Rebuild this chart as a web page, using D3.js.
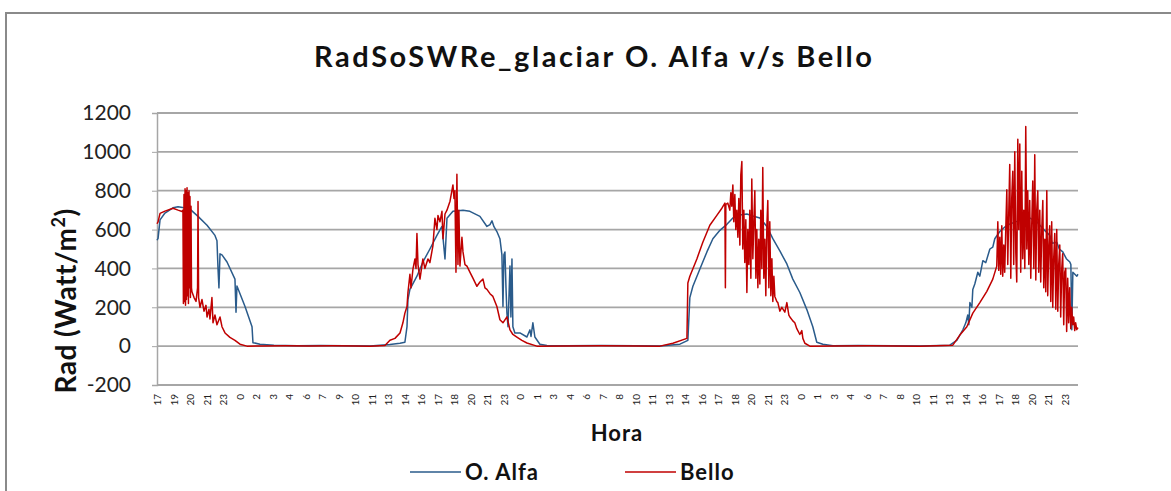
<!DOCTYPE html>
<html><head><meta charset="utf-8">
<script src="https://cdn.jsdelivr.net/npm/d3@7"></script>
<style>body{margin:0;background:#fff;} svg{display:block;}</style>
</head><body>
<svg id="c" width="1171" height="491"></svg>
<script>
const title = "RadSoSWRe_glaciar O. Alfa v/s Bello";
const seriesNames = ["O. Alfa", "Bello"];
const yTicks = [-200, 0, 200, 400, 600, 800, 1000, 1200];
const xTickLabels = ["17","19","20","21","23",
  "0","2","3","4","6","7","9","10","11","13","14","16","17","18","20","21","23",
  "0","1","3","4","6","7","8","10","11","13","14","16","17","18","20","21","23",
  "0","1","3","4","6","7","8","10","11","13","14","16","17","18","20","21","23"];
const xStart = 17, xTickStep = 24 / 17, xEnd = 95.8;

// [hours since day-1 00:00, W/m2]
const oAlfa = [[17.0,545],[17.09,555],[17.26,650],[17.68,685],[18.37,712],[18.8,718],[19.31,712],[19.82,705],[20.51,668],[21.28,622],[21.96,570],[22.13,543],[22.22,400],[22.3,300],[22.39,475],[22.56,470],[22.99,433],[23.67,345],[23.76,175],[23.84,310],[24.53,204],[25.13,100],[25.21,18],[25.81,10],[27,4],[29,2],[31,3],[33,2],[35.22,1],[36.93,8],[37.79,15],[38.21,20],[38.39,100],[38.47,240],[38.64,292],[39.24,360],[39.75,433],[40.35,500],[40.95,570],[41.38,616],[41.64,449],[41.81,658],[42.32,694],[43.18,700],[43.77,694],[44.63,668],[45.23,616],[45.49,625],[45.66,645],[45.83,615],[46.08,590],[46.34,553],[46.51,470],[46.6,204],[46.68,470],[46.77,485],[46.86,300],[46.94,170],[47.03,100],[47.2,412],[47.28,150],[47.37,449],[47.45,100],[47.62,68],[48.05,68],[48.65,47],[48.91,84],[49.0,50],[49.16,120],[49.33,47],[49.76,10],[50.36,3],[52,2],[55,3],[58,2],[60.03,1],[61.74,10],[62.42,30],[62.59,250],[62.85,308],[63.45,397],[64.05,485],[64.56,553],[65.16,596],[65.76,627],[66.27,660],[66.87,675],[67.47,680],[67.98,670],[68.58,660],[69.18,616],[69.69,553],[70.29,490],[70.89,423],[71.4,345],[72.0,276],[72.6,188],[73.11,100],[73.45,20],[73.97,10],[74.83,2],[77,3],[80,2],[82.27,1],[84.83,5],[85.43,30],[85.95,84],[86.2,120],[86.37,160],[86.46,110],[86.55,224],[86.72,200],[86.8,292],[86.97,320],[87.23,380],[87.4,360],[87.66,440],[87.91,430],[88.26,500],[88.51,510],[88.68,553],[89.11,590],[89.71,622],[90.57,642],[91.42,668],[92.28,640],[92.79,605],[93.39,570],[93.6,530],[93.99,535],[94.2,500],[94.5,485],[94.8,450],[95.1,433],[95.19,420],[95.27,84],[95.36,380],[95.7,360],[95.8,370]];

const bello = [[17.0,630],[17.09,640],[17.26,683],[17.68,695],[18.37,710],[18.8,700],[19.14,693],[19.22,700],[19.26,220],[19.31,780],[19.35,230],[19.4,810],[19.44,210],[19.48,800],[19.52,240],[19.57,815],[19.61,260],[19.65,790],[19.69,220],[19.74,800],[19.78,300],[19.82,770],[19.86,250],[19.91,720],[19.95,300],[19.99,280],[20.17,250],[20.34,230],[20.47,300],[20.51,745],[20.56,250],[20.68,200],[20.85,240],[21.02,180],[21.19,210],[21.28,150],[21.45,190],[21.53,140],[21.7,250],[21.79,120],[21.96,160],[22.13,110],[22.39,150],[22.56,100],[22.82,68],[23.24,45],[23.67,30],[24.1,10],[24.7,0],[26,1],[28,2],[30,1],[32,2],[34,1],[35.22,0],[36.5,3],[36.93,30],[37.36,40],[37.79,68],[38.04,120],[38.21,170],[38.39,204],[38.47,276],[38.64,370],[38.73,300],[38.9,397],[39.07,449],[39.16,400],[39.24,580],[39.33,420],[39.5,345],[39.75,449],[39.92,400],[40.18,449],[40.35,430],[40.61,517],[40.78,658],[40.95,600],[41.04,673],[41.21,640],[41.38,694],[41.47,553],[41.64,680],[41.81,700],[42.07,746],[42.32,830],[42.41,760],[42.49,800],[42.58,380],[42.66,885],[42.75,420],[42.83,700],[42.92,412],[43.09,560],[43.18,485],[43.35,420],[43.52,412],[43.77,381],[44.03,350],[44.37,308],[44.63,330],[44.89,345],[45.06,300],[45.23,292],[45.49,270],[45.74,256],[46.08,204],[46.34,136],[46.6,120],[46.94,151],[47.2,84],[47.45,60],[47.79,47],[48.22,30],[48.65,16],[49.5,0],[52,1],[55,2],[58,1],[60.03,0],[61.14,15],[62.34,40],[62.42,325],[62.59,360],[63.19,449],[63.7,535],[64.3,622],[64.9,673],[65.33,710],[65.59,736],[65.63,300],[65.67,730],[65.84,736],[66.01,700],[66.1,790],[66.18,720],[66.27,830],[66.35,640],[66.44,780],[66.52,600],[66.61,700],[66.7,560],[66.78,760],[66.87,520],[66.95,880],[67.04,950],[67.12,500],[67.21,700],[67.29,430],[67.38,650],[67.47,276],[67.55,600],[67.64,420],[67.72,700],[67.81,350],[67.89,860],[67.98,450],[68.07,650],[68.15,800],[68.24,350],[68.32,600],[68.41,300],[68.49,550],[68.58,320],[68.66,700],[68.75,400],[68.83,920],[68.92,350],[69.01,550],[69.09,260],[69.18,620],[69.26,750],[69.35,300],[69.43,640],[69.52,260],[69.61,450],[69.69,230],[69.78,360],[69.86,256],[70.03,230],[70.12,224],[70.29,180],[70.46,200],[70.72,175],[70.89,224],[71.06,160],[71.15,150],[71.4,130],[71.57,120],[71.74,90],[72.0,60],[72.17,80],[72.26,40],[72.43,15],[72.86,0],[75,1],[78,2],[80,1],[82.27,0],[85.09,5],[85.69,57],[86.29,100],[86.8,170],[87.4,224],[88.0,282],[88.51,345],[88.85,412],[88.94,640],[89.02,390],[89.11,560],[89.19,370],[89.28,620],[89.36,360],[89.45,520],[89.53,380],[89.62,600],[89.71,805],[89.79,420],[89.88,700],[89.96,935],[90.05,350],[90.13,760],[90.22,900],[90.3,420],[90.39,1000],[90.48,480],[90.56,330],[90.65,1065],[90.73,600],[90.82,1040],[90.9,380],[90.99,900],[91.07,450],[91.16,700],[91.25,400],[91.33,1130],[91.42,500],[91.5,800],[91.59,420],[91.67,750],[91.76,350],[91.84,620],[91.93,850],[92.02,400],[92.1,985],[92.19,340],[92.27,700],[92.36,800],[92.44,380],[92.53,700],[92.61,330],[92.7,600],[92.79,750],[92.87,300],[92.96,550],[93.04,280],[93.13,800],[93.21,260],[93.3,520],[93.38,620],[93.47,230],[93.55,640],[93.64,200],[93.72,450],[93.81,580],[93.9,190],[93.98,600],[94.07,180],[94.15,420],[94.24,520],[94.32,150],[94.41,400],[94.49,475],[94.58,110],[94.66,380],[94.75,400],[94.83,75],[94.92,350],[95.0,120],[95.09,300],[95.18,90],[95.26,200],[95.35,110],[95.43,150],[95.52,80],[95.6,120],[95.69,85],[95.8,95]];

const colors = ["#2a5b8b", "#c00000"];
const svg = d3.select("#c");
const font = "Lato, 'Open Sans', sans-serif";
const m = {left: 157, right: 1078, top: 113, bottom: 385};

// outer border
svg.append("rect").attr("x", 6).attr("y", 13).attr("width", 1300).attr("height", 600)
  .attr("fill", "#fff").attr("stroke", "#8a8a8a").attr("stroke-width", 2);

const x = d3.scaleLinear().domain([xStart, xEnd]).range([m.left, m.right]);
const y = d3.scaleLinear().domain([-200, 1200]).range([m.bottom, m.top]);

// gridlines
svg.append("g").selectAll("line").data(yTicks).join("line")
  .attr("x1", m.left).attr("x2", m.right)
  .attr("y1", d => y(d)).attr("y2", d => y(d))
  .attr("stroke", "#a6a6a6").attr("stroke-width", 1.8);

// y axis
const yAxis = svg.append("g").attr("transform", `translate(${m.left},0)`)
  .call(d3.axisLeft(y).tickValues(yTicks).tickSize(5).tickPadding(21).tickFormat(d => String(d)));
yAxis.select(".domain").attr("stroke", "#a6a6a6").attr("stroke-width", 1.5);
yAxis.selectAll(".tick line").attr("stroke", "#a6a6a6");
yAxis.selectAll("text").attr("font-family", font).attr("font-size", 21).attr("fill", "#222");

// x axis tick labels
const xTickVals = xTickLabels.map((d, i) => xStart + i * xTickStep);
const xAxis = svg.append("g").attr("transform", `translate(0,${m.bottom})`)
  .call(d3.axisBottom(x).tickValues(xTickVals).tickSize(0).tickFormat((d, i) => xTickLabels[i]));
xAxis.select(".domain").remove();
xAxis.selectAll("text")
  .attr("font-family", font).attr("font-size", 10).attr("fill", "#222")
  .attr("transform", "rotate(-90)")
  .attr("text-anchor", "end").attr("x", -9).attr("y", 0).attr("dy", "0.35em");

// lines
const line = d3.line().x(d => x(d[0])).y(d => y(d[1]));
[oAlfa, bello].forEach((s, i) => {
  svg.append("path").datum(s).attr("d", line).attr("fill", "none")
    .attr("stroke", colors[i]).attr("stroke-width", 1.5).attr("stroke-linejoin", "round");
});

// title
svg.append("text").attr("x", 593).attr("y", 67).attr("text-anchor", "middle")
  .attr("font-family", font).attr("font-weight", "bold").attr("font-size", 29)
  .attr("textLength", 558).attr("lengthAdjust", "spacing")
  .attr("fill", "#111").text(title);

// y title
const yt = svg.append("text").attr("transform", "translate(76,301) rotate(-90)")
  .attr("text-anchor", "middle").attr("font-family", font).attr("font-weight", "bold")
  .attr("font-size", 28).attr("letter-spacing", 0.5).attr("fill", "#111");
yt.append("tspan").text("Rad (Watt/m");
yt.append("tspan").attr("dy", -11).attr("font-size", 18).text("2");
yt.append("tspan").attr("dy", 11).text(")");

// x title
svg.append("text").attr("x", 617).attr("y", 441).attr("text-anchor", "middle")
  .attr("font-family", font).attr("font-weight", "bold").attr("font-size", 22)
  .attr("letter-spacing", 1).attr("fill", "#111").text("Hora");

// legend
const legX = [410, 625];
seriesNames.forEach((n, i) => {
  svg.append("line").attr("x1", legX[i]).attr("x2", legX[i] + 51)
    .attr("y1", 472).attr("y2", 472).attr("stroke", colors[i]).attr("stroke-width", 1.5);
  svg.append("text").attr("x", legX[i] + 55).attr("y", 480)
    .attr("font-family", font).attr("font-weight", "bold").attr("font-size", 22)
    .attr("letter-spacing", 1).attr("fill", "#111").text(n);
});
</script>
</body></html>
